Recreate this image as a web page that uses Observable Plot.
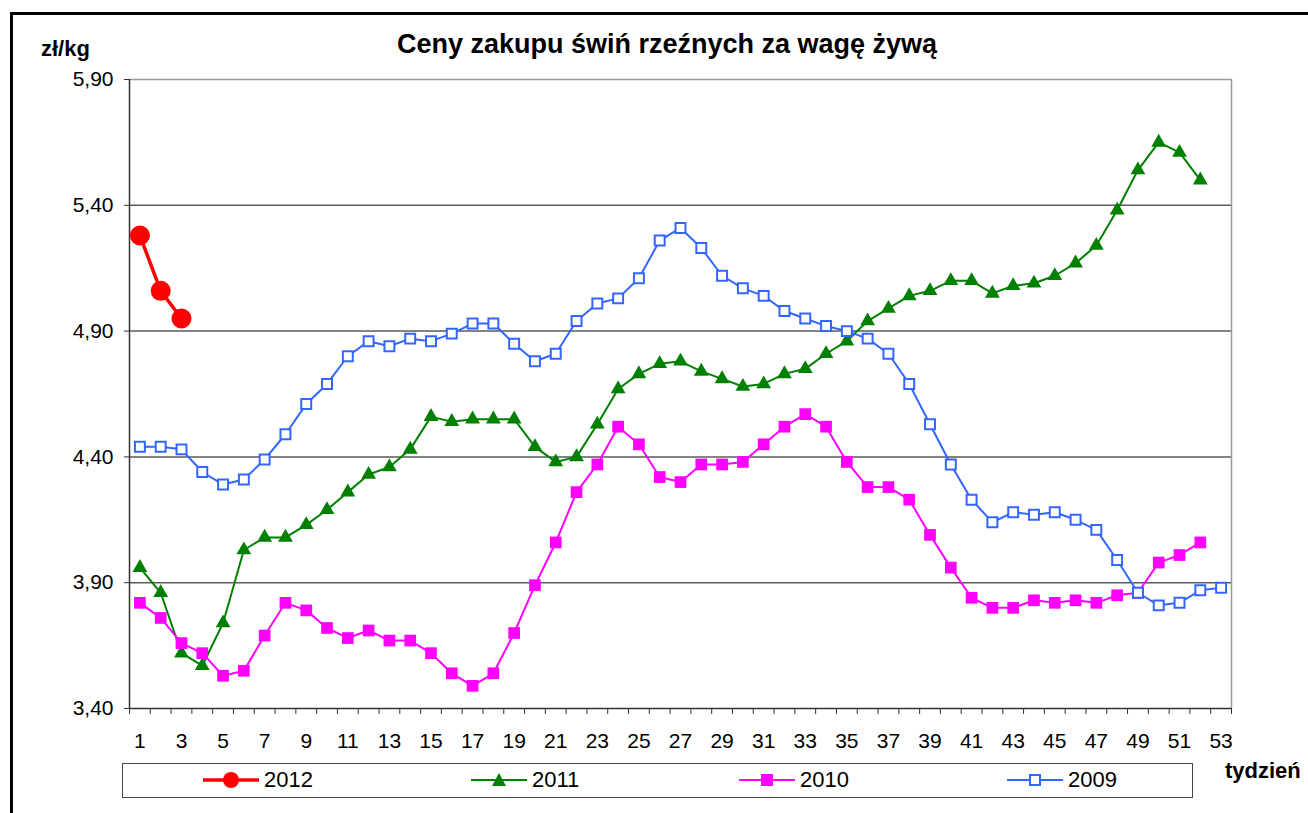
<!DOCTYPE html>
<html>
<head>
<meta charset="utf-8">
<script src="https://cdn.jsdelivr.net/npm/d3@7"></script>
<script src="https://cdn.jsdelivr.net/npm/@observablehq/plot@0.6"></script>
<style>
  html, body { margin: 0; padding: 0; background: #fff; overflow: hidden; }
  body { width: 1308px; height: 813px; position: relative; font-family: "Liberation Sans", Arial, sans-serif; }
  #frame { position: absolute; left: 10px; top: 12px; width: 1400px; height: 900px; border: 3px solid #000; box-sizing: border-box; }
  #chart { position: absolute; left: 0; top: 0; }
  #title { position: absolute; left: 0; width: 1334px; top: 29px; text-align: center; font-weight: bold; font-size: 27px; color: #000; }
  #unit { position: absolute; left: 41px; top: 36px; font-weight: bold; font-size: 22px; color: #000; }
  #xlab { position: absolute; left: 1225px; top: 758px; font-weight: bold; font-size: 22px; color: #000; }
  #legend { position: absolute; left: 122px; top: 763px; width: 1071px; height: 35px; border: 1.5px solid #444; box-sizing: border-box; }
  .item { position: absolute; top: 0; height: 32px; display: flex; align-items: center; font-size: 22px; color: #000; }
  .item svg { margin-right: 5px; }
</style>
</head>
<body>
<div id="frame"></div>
<div id="chart"></div>
<div id="title">Ceny zakupu świń rzeźnych za wagę żywą</div>
<div id="unit">zł/kg</div>
<div id="xlab">tydzień</div>
<div id="legend"></div>
<script>
// ---- data ----
const years = ["2012", "2011", "2010", "2009"];
const colors = ["#FF0000", "#008000", "#FF00FF", "#3366FF"];
const yTicks = [3.4, 3.9, 4.4, 4.9, 5.4, 5.9];
const xTickLabels = [1,3,5,7,9,11,13,15,17,19,21,23,25,27,29,31,33,35,37,39,41,43,45,47,49,51,53];

const v2012 = [5.28, 5.06, 4.95];
const v2011 = [3.96, 3.86, 3.62, 3.57, 3.74, 4.03, 4.08, 4.08, 4.13, 4.19,
               4.26, 4.33, 4.36, 4.43, 4.56, 4.54, 4.55, 4.55, 4.55, 4.44,
               4.38, 4.40, 4.53, 4.67, 4.73, 4.77, 4.78, 4.74, 4.71, 4.68,
               4.69, 4.73, 4.75, 4.81, 4.86, 4.94, 4.99, 5.04, 5.06, 5.10,
               5.10, 5.05, 5.08, 5.09, 5.12, 5.17, 5.24, 5.38, 5.54, 5.65,
               5.61, 5.50];
const v2010 = [3.82, 3.76, 3.66, 3.62, 3.53, 3.55, 3.69, 3.82, 3.79, 3.72,
               3.68, 3.71, 3.67, 3.67, 3.62, 3.54, 3.49, 3.54, 3.70, 3.89,
               4.06, 4.26, 4.37, 4.52, 4.45, 4.32, 4.30, 4.37, 4.37, 4.38,
               4.45, 4.52, 4.57, 4.52, 4.38, 4.28, 4.28, 4.23, 4.09, 3.96,
               3.84, 3.80, 3.80, 3.83, 3.82, 3.83, 3.82, 3.85, 3.86, 3.98,
               4.01, 4.06];
const v2009 = [4.44, 4.44, 4.43, 4.34, 4.29, 4.31, 4.39, 4.49, 4.61, 4.69,
               4.80, 4.86, 4.84, 4.87, 4.86, 4.89, 4.93, 4.93, 4.85, 4.78,
               4.81, 4.94, 5.01, 5.03, 5.11, 5.26, 5.31, 5.23, 5.12, 5.07,
               5.04, 4.98, 4.95, 4.92, 4.90, 4.87, 4.81, 4.69, 4.53, 4.37,
               4.23, 4.14, 4.18, 4.17, 4.18, 4.15, 4.11, 3.99, 3.86, 3.81,
               3.82, 3.87, 3.88];

const rows = (vals, year) => vals.map((v, i) => ({week: i + 1, value: v, year}));
const d2012 = rows(v2012, "2012");
const d2011 = rows(v2011, "2011");
const d2010 = rows(v2010, "2010");
const d2009 = rows(v2009, "2009");

const fmt = d => d.toFixed(2).replace(".", ",");
const boundaries = d3.range(0.5, 54, 1);

const plot = Plot.plot({
  width: 1308,
  height: 770,
  marginLeft: 129,
  marginRight: 77,
  marginTop: 79,
  marginBottom: 62,
  style: {fontFamily: "'Liberation Sans', Arial, sans-serif", fontSize: "21px", background: "transparent", color: "#000"},
  x: {domain: [0.5, 53.5]},
  y: {domain: [3.4, 5.9]},
  marks: [
    Plot.ruleY(yTicks.slice(1, -1), {stroke: "#5a5a5a", strokeWidth: 1.5}),
    Plot.ruleY([5.9], {stroke: "#999", strokeWidth: 1.5}),
    Plot.ruleX([53.5], {stroke: "#999", strokeWidth: 1.5}),
    Plot.ruleX([0.5], {stroke: "#333", strokeWidth: 1.5}),
    Plot.ruleY([3.4], {stroke: "#333", strokeWidth: 1.5}),
    Plot.axisY({ticks: yTicks, tickFormat: fmt, tickSize: 5, tickPadding: 11, stroke: "#333", label: null, fontSize: 21}),
    Plot.axisX({ticks: boundaries, tickFormat: () => "", tickSize: 6, stroke: "#333", label: null}),
    Plot.axisX({ticks: xTickLabels, tickFormat: d => String(d), tickSize: 0, tickPadding: 25, label: null, fontSize: 21}),
    // 2011
    Plot.line(d2011, {x: "week", y: "value", stroke: colors[1], strokeWidth: 2}),
    Plot.dot(d2011, {x: "week", y: "value", symbol: "triangle", r: 5.5, fill: colors[1], stroke: "none"}),
    // 2010
    Plot.line(d2010, {x: "week", y: "value", stroke: colors[2], strokeWidth: 2}),
    Plot.dot(d2010, {x: "week", y: "value", symbol: "square", r: 6.6, fill: colors[2], stroke: "none"}),
    // 2009
    Plot.line(d2009, {x: "week", y: "value", stroke: colors[3], strokeWidth: 2}),
    Plot.dot(d2009, {x: "week", y: "value", symbol: "square", r: 5.6, fill: "#fff", stroke: colors[3], strokeWidth: 2}),
    // 2012
    Plot.line(d2012, {x: "week", y: "value", stroke: colors[0], strokeWidth: 3.5}),
    Plot.dot(d2012, {x: "week", y: "value", r: 10, fill: colors[0], stroke: "none"})
  ]
});
document.getElementById("chart").appendChild(plot);

// ---- legend ----
const legend = document.getElementById("legend");
const markerSvg = [
  c => `<circle cx="28" cy="10" r="8" fill="${c}"/>`,
  c => `<path d="M28,3 L35,16 L21,16 Z" fill="${c}"/>`,
  c => `<rect x="22" y="4" width="12" height="12" fill="${c}"/>`,
  c => `<rect x="23" y="5" width="10" height="10" fill="#fff" stroke="${c}" stroke-width="2"/>`
];
const lineW = [3.5, 2, 2, 2];
years.forEach((y, i) => {
  const div = document.createElement("div");
  div.className = "item";
  div.style.left = (80 + i * 268) + "px";
  div.innerHTML = `<svg width="56" height="20"><line x1="0" y1="10" x2="56" y2="10" stroke="${colors[i]}" stroke-width="${lineW[i]}"/>${markerSvg[i](colors[i])}</svg><span>${y}</span>`;
  legend.appendChild(div);
});
</script>
</body>
</html>
